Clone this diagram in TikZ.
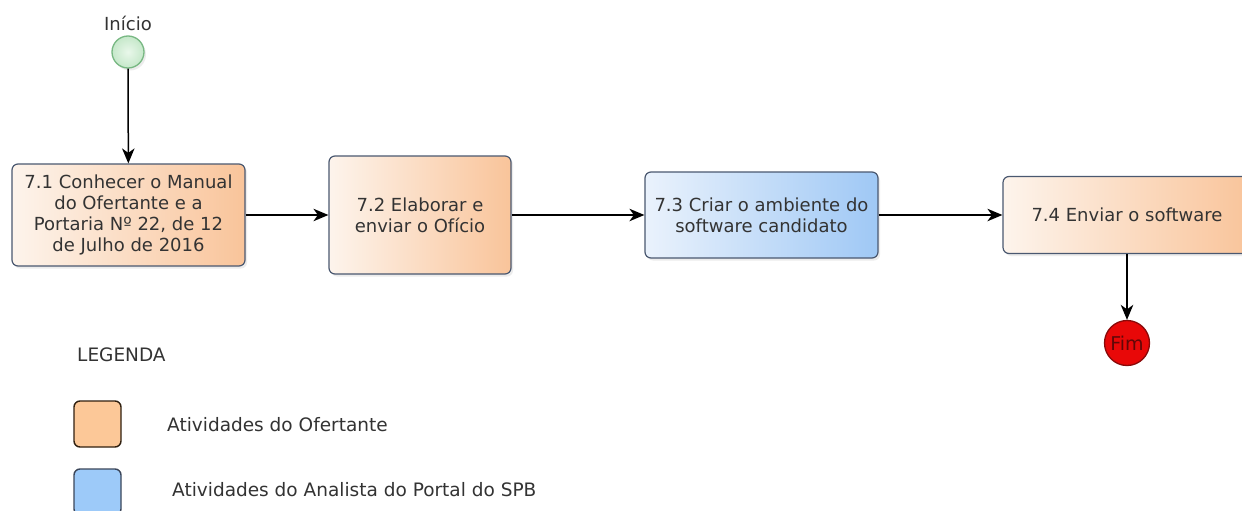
\documentclass[tikz,border=0pt]{standalone}
\usepackage{fontspec}
\setmainfont{DejaVu Sans}
\usetikzlibrary{arrows.meta,shadows}
\definecolor{txt}{HTML}{333333}
\definecolor{edge}{HTML}{4A5870}
\definecolor{orLight}{HTML}{FDF4EC}
\definecolor{orDark}{HTML}{F9C49A}
\definecolor{blLight}{HTML}{EAF2FC}
\definecolor{blDark}{HTML}{9FC8F5}
\definecolor{legOr}{HTML}{FCC898}
\definecolor{legBl}{HTML}{9DCAF9}
\definecolor{grFill}{HTML}{D3F0D6}
\definecolor{grEdge}{HTML}{78B883}
\definecolor{redFill}{HTML}{E80808}
\definecolor{redEdge}{HTML}{8A0A0A}
\tikzset{
  every node/.style={font=\fontsize{18}{21}\selectfont, text=txt},
  task/.style={draw=edge, line width=1.2pt, rounded corners=6pt, align=center, inner sep=0pt,
    drop shadow={opacity=0.15, shadow xshift=2pt, shadow yshift=-2.5pt}},
  ofertante/.style={task, left color=orLight, right color=orDark},
  analista/.style={task, left color=blLight, right color=blDark},
  flow/.style={-{Stealth[length=15pt,width=12.5pt,inset=4.5pt]}, line width=1.5pt, black},
  legbox/.style={rounded corners=6pt, line width=1.4pt, minimum width=47pt, minimum height=46pt, inner sep=0pt},
  legtext/.style={anchor=west, inner sep=0pt, font=\fontsize{18.5}{21}\selectfont},
  endtext/.style={font=\fontsize{19}{20}\selectfont, text=redEdge!70!black},
}
\begin{document}
\begin{tikzpicture}[x=1pt,y=-1pt]
\useasboundingbox (0,0) rectangle (1242,511);
\clip (0,0) rectangle (1242,511);
\fill[white] (0,0) rectangle (1242,511);

% start event
\node (lblstart) at (128,23) {Início};
\node[circle, draw=grEdge, line width=1.3pt, inner color=grFill!50!white, outer color=grFill!85!grEdge, minimum size=32pt, inner sep=0pt,
  drop shadow={opacity=0.15, shadow xshift=2pt, shadow yshift=-2.5pt}] (start) at (128,52) {};

% tasks
\node[ofertante, minimum width=233pt, minimum height=102pt] (b1) at (128.5,215)
  {7.1 Conhecer o Manual\\do Ofertante e a\\Portaria Nº 22, de 12\\de Julho de 2016};
\node[ofertante, minimum width=182pt, minimum height=118pt] (b2) at (420,215)
  {7.2 Elaborar e\\enviar o Ofício};
\node[analista, minimum width=233pt, minimum height=86pt] (b3) at (761.5,215)
  {7.3 Criar o ambiente do\\software candidato};
\node[ofertante, minimum width=248pt, minimum height=77pt] (b4) at (1127,215)
  {7.4 Enviar o software};

% end event
\node[circle, draw=redEdge, fill=redFill, line width=1.3pt, minimum size=45pt, inner sep=0pt, endtext] (fim) at (1127,343) {Fim};

% connectors
\draw[flow] (start) -- (b1);
\draw[flow] (b1.east) -- (b1.east -| b2.west);
\draw[flow] (b2.east) -- (b2.east -| b3.west);
\draw[flow] (b3.east) -- (b3.east -| b4.west);
\draw[flow] (b4) -- (fim);

% legend
\node[legtext] (legtitle) at (77,355) {LEGENDA};
\node[legbox, draw=black!75!brown, fill=legOr] (legor) at (97.5,424) {};
\node[legtext] (legortxt) at (167,425) {Atividades do Ofertante};
\node[legbox, draw=edge!80!black, fill=legBl] (legbl) at (97.5,492) {};
\node[legtext] (legbltxt) at (172,490) {Atividades do Analista do Portal do SPB};
\end{tikzpicture}
\end{document}
